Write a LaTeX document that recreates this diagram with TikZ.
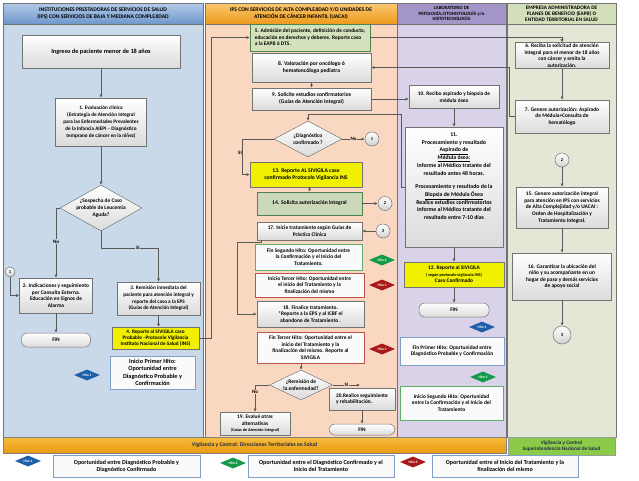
\documentclass[tikz,border=0pt]{standalone}
\usepackage{fontspec}
\setmainfont{Carlito}
\usetikzlibrary{shapes.geometric,shadows,arrows.meta}
\definecolor{laneA}{HTML}{C9D9EA}
\definecolor{headA}{HTML}{6F97CB}
\definecolor{headAt}{HTML}{B3CAE8}
\definecolor{laneB}{HTML}{F9D7C0}
\definecolor{headB}{HTML}{EE9A1C}
\definecolor{headBt}{HTML}{F9C870}
\definecolor{laneC}{HTML}{D9D2E8}
\definecolor{headC}{HTML}{A395C8}
\definecolor{laneD}{HTML}{E3E7D5}
\definecolor{headD}{HTML}{D3DEBB}
\definecolor{bandO}{HTML}{EA9A12}
\definecolor{bandOt}{HTML}{F6BD3E}
\definecolor{bandG}{HTML}{8CCB4A}
\definecolor{yel}{HTML}{F0F000}
\definecolor{grbox}{HTML}{D3E2BC}
\definecolor{grgray}{HTML}{CBD8BA}
\definecolor{hitoA}{HTML}{1F5FAA}
\definecolor{hitoB}{HTML}{129A48}
\definecolor{hitoC}{HTML}{A81818}
\definecolor{edgeA}{HTML}{7F9FC6}
\definecolor{edgeB}{HTML}{5FAE6A}
\definecolor{edgeC}{HTML}{C0504D}
\definecolor{ink}{HTML}{1F2A44}
\begin{document}
\begin{tikzpicture}[x=1pt,y=-1pt,
    every node/.style={font=\bfseries\fontsize{5.4}{6.6}\selectfont,align=center,inner sep=1pt},
    box/.style={draw=black!55,line width=.5pt,top color=white,bottom color=black!14,
      drop shadow={shadow xshift=.7pt,shadow yshift=-.7pt,opacity=.25}},
    yelbox/.style={draw=black!55,line width=.5pt,fill=yel,
      drop shadow={shadow xshift=.7pt,shadow yshift=-.7pt,opacity=.25}},
    grnbox/.style={draw=black!45!green!40!gray,line width=.5pt,fill=#1,
      drop shadow={shadow xshift=.7pt,shadow yshift=-.7pt,opacity=.25}},
    hitobox/.style={draw=#1,line width=.8pt,fill=white!96!gray,
      drop shadow={shadow xshift=.7pt,shadow yshift=-.7pt,opacity=.2}},
    finbox/.style={draw=black!55,line width=.5pt,rounded corners=6pt,top color=white,bottom color=black!14},
    dec/.style={diamond,draw=black!55,line width=.5pt,top color=white,bottom color=black!14,aspect=1.8,inner sep=0pt},
    conn/.style={circle,draw=black!55,line width=.5pt,top color=white,bottom color=black!18,
      minimum size=14pt,inner sep=0pt,font=\bfseries\fontsize{4.5}{5}\selectfont},
    hito/.style={diamond,fill=#1,aspect=2.4,minimum width=26pt,minimum height=11pt,inner sep=0pt,
      text=white,font=\bfseries\fontsize{3.6}{4}\selectfont},
    flow/.style={draw=black!65,line width=.6pt,-{Latex[length=3.2pt,width=3.2pt]}},
    lbl/.style={font=\bfseries\fontsize{5}{6}\selectfont,inner sep=.6pt}]
  \useasboundingbox (0,0) rectangle (639,480);
  \fill[white] (0,0) rectangle (639,480);
  % lanes
  \fill[laneA] (3,24) rectangle (203,437);
  \fill[laneB] (205,24) rectangle (397,437);
  \fill[laneC] (397,24) rectangle (506,437);
  \fill[laneD] (507,24) rectangle (616,437);
  \shade[top color=headAt,bottom color=headA] (3,3) rectangle (203,24);
  \shade[top color=headBt,bottom color=headB] (205,3) rectangle (397,24);
  \fill[headC] (397,3) rectangle (506,24);
  \fill[headD] (507,3) rectangle (616,24);
  \foreach \a/\b in {3/203,205/397,397/506,507/616}
    \draw[black!55,line width=.8pt] (\a,3) rectangle (\b,437) (\a,24) -- (\b,24);
  \node[font=\bfseries\fontsize{5.6}{6.6}\selectfont] (hdA) at (103,13.5)
    {INSTITUCIONES PRESTADORAS DE SERVICIOS DE SALUD\\(IPS) CON SERVICIOS DE BAJA Y MEDIANA COMPLEJIDAD};
  \node[font=\bfseries\fontsize{5.6}{6.6}\selectfont] (hdB) at (301,13.5)
    {IPS CON SERVICIOS DE ALTA COMPLEJIDAD Y/O UNIDADES DE\\ATENCIÓN DE CÁNCER INFANTIL (UACAI)};
  \node[font=\bfseries\fontsize{4.8}{5.6}\selectfont] (hdC) at (451.5,13.5)
    {LABORATORIO DE\\PATOLOGÍA,CITOHISTOLOGÍA y/o\\HISTOTECNOLOGÍA};
  \node[font=\bfseries\fontsize{5.3}{5.9}\selectfont] (hdD) at (561.5,13.5)
    {EMPRESA ADMINISTRADORA DE\\PLANES DE BENEFICIO (EAPB) O\\ENTIDAD TERRITORIAL EN SALUD};
  % bands
  \shade[top color=bandOt,bottom color=bandO,draw=black!50] (3,437) rectangle (506,453);
  \node[text=ink,font=\bfseries\fontsize{5.6}{6}\selectfont] (vigA) at (254.5,445)
    {Vigilancia y Control: Direcciones Territoriales en Salud};
  \fill[bandG,draw=black!40] (508,437) rectangle (615,455);
  \node[text=ink,font=\bfseries\fontsize{5.2}{6}\selectfont] (vigB) at (561.5,446)
    {Vigilancia y Control\\Superintendencia Nacional de Salud};

  % lane 1
  \node[box,minimum width=158pt,minimum height=33pt,font=\bfseries\fontsize{6.3}{7.5}\selectfont] (ingreso) at (101,51.5)
    {Ingreso de paciente menor de 18 años};
  \node[box,minimum width=91pt,minimum height=48pt,font=\bfseries\fontsize{5.2}{6.8}\selectfont] (n1) at (101,122)
    {1. Evaluación clínica\\(Estrategia de Atención Integral\\para las Enfermedades Prevalentes\\de la Infancia  AIEPI -- Diagnóstico\\temprano de cáncer en la niñez)};
  \node[dec,minimum width=82pt,minimum height=46pt] (d1) at (101,208)
    {¿Sospecha de Caso\\probable de Leucemia\\Aguda?};
  \node[box,minimum width=73pt,minimum height=35pt] (n2) at (56,295.5)
    {2. Indicaciones y seguimiento\\por Consulta Externa.\\Educación en Signos de\\Alarma};
  \node[box,minimum width=83pt,minimum height=33pt,font=\bfseries\fontsize{5.2}{6.6}\selectfont] (n3) at (158.5,298.5)
    {3. Remisión inmediata del\\paciente para atención integral y\\reporte del caso a la EPS\\(Guías de Atención Integral)};
  \node[conn,minimum size=10pt] (c1a) at (10,272) {1};
  \node[finbox,minimum width=69pt,minimum height=14pt] (finA) at (56,340) {FIN};
  \node[yelbox,minimum width=87pt,minimum height=22pt,font=\bfseries\fontsize{5.2}{6.2}\selectfont] (n4) at (155.5,338)
    {4. Reporte al SIVIGILA caso\\Probable --Protocolo Vigilancia\\Instituto Nacional de Salud (INS)};
  \node[hitobox=edgeA,minimum width=85pt,minimum height=33pt,font=\bfseries\fontsize{6.2}{7.4}\selectfont] (hAini) at (152.5,372.5)
    {Inicio Primer Hito:\\Oportunidad entre\\Diagnóstico Probable y\\Confirmación};
  \node[hito=hitoA] (hA1) at (87,375) {Hito 1};

  % lane 2
  \node[grnbox=grbox,minimum width=120pt,minimum height=27pt,align=left] (n5) at (310,37.5)
    {5.  Admisión del paciente, definición de conducta,\\educación en derechos y deberes.  Reporte caso\\a la EAPB ó DTS.};
  \node[box,minimum width=119pt,minimum height=29pt,font=\bfseries\fontsize{5.6}{7}\selectfont] (n8) at (311.5,67.5)
    {8. Valoración por oncólogo ó\\hematoncólogo pediatra};
  \node[box,minimum width=119pt,minimum height=22pt,font=\bfseries\fontsize{5.6}{7}\selectfont] (n9) at (311.5,99)
    {9. Solicite estudios confirmatorios\\(Guías de Atención Integral)};
  \node[dec,minimum width=68pt,minimum height=36pt] (d2) at (308,139) {¿Diagnóstico\\confirmado ?};
  \node[conn] (c1b) at (372,139) {1};
  \node[yelbox,minimum width=112pt,minimum height=25pt,font=\bfseries\fontsize{5.6}{7}\selectfont] (n13) at (306,174.5)
    {13. Reporte AL SIVIGILA  caso\\confirmado Protocolo Vigilancia INS};
  \node[grnbox=grgray,minimum width=105pt,minimum height=23pt,font=\bfseries\fontsize{5.6}{7}\selectfont] (n14) at (309.5,203.5)
    {14. Solicita autorización integral};
  \node[conn] (c2a) at (385,203.5) {2};
  \node[box,minimum width=105pt,minimum height=18pt] (n17) at (309.5,231)
    {17. Inicie tratamiento según  Guías de\\Práctica Clínica};
  \node[conn] (c3a) at (383,231) {3};
  \node[hitobox=edgeB,minimum width=107pt,minimum height=26pt] (hBfin) at (308.5,257)
    {Fin Segundo  Hito: Oportunidad entre\\la Confirmación y el Inicio del\\Tratamiento.};
  \node[hito=hitoB] (hB2) at (382,260) {Hito 2};
  \node[hitobox=edgeC,minimum width=109pt,minimum height=24pt] (hCini) at (309.5,285)
    {Inicio Tercer  Hito: Oportunidad entre\\el inicio del Tratamiento  y la\\finalización del mismo};
  \node[hito=hitoC] (hB3a) at (382,285) {Hito 3};
  \node[box,minimum width=107pt,minimum height=26pt] (n18) at (310.5,314)
    {18. Finalice tratamiento.\\*Reporte a la EPS y al ICBF el\\abandono de Tratamiento .};
  \node[hitobox=edgeC,minimum width=107pt,minimum height=31pt] (hCfin) at (310.5,347.5)
    {Fin Tercer  Hito: Oportunidad entre  el\\inicio del Tratamiento  y la\\finalización del mismo. Reporte al\\SIVIGILA};
  \node[hito=hitoC] (hB3b) at (382,349) {Hito 3};
  \node[dec,minimum width=63pt,minimum height=30pt] (d3) at (301,385) {¿Remisión de\\la enfermedad?};
  \node[box,minimum width=70pt,minimum height=23pt] (n19) at (255,423.5)
    {19. Evalué otras\\alternativas\\{\fontsize{4.2}{5}\selectfont(Guías de Atención Integral)}};
  \node[box,minimum width=66pt,minimum height=22pt,align=left] (n20) at (362,399)
    {20.Realice seguimiento\\y rehabilitación.};
  \coordinate (siend) at (360,385);
  \node[finbox,minimum width=66pt,minimum height=11pt] (finB) at (362,429.5) {FIN};

  % lane 3
  \node[box,minimum width=90pt,minimum height=23pt] (n10) at (454,97)
    {10. Recibo aspirado y biopsia de\\médula ósea};
  \node[box,minimum width=98pt,minimum height=120pt,font=\bfseries\fontsize{5.8}{7.7}\selectfont] (n11) at (454,187)
    {11.\\Procesamiento  y resultado\\\underline{Aspirado de}\\\underline{Médula ósea:}\\Informe al Médico tratante del\\resultado antes 48 horas.\\[6pt]
     Procesamiento  y resultado de la\\\underline{Biopsia de Médula Ósea}\\Realice estudios confirmatorios\\Informe al Médico tratante del\\resultado entre  7-10  días\\[14pt]};
  \node[yelbox,minimum width=100pt,minimum height=25pt] (n12) at (454,274.5)
    {12. Reporte al SIVIGILA\\{\fontsize{4.2}{5}\selectfont( según protocolo vigilancia INS)}\\Caso Confirmado};
  \node[finbox,minimum width=70pt,minimum height=14pt] (finC) at (454,310) {FIN};
  \node[hito=hitoA] (hC1) at (482,327) {Hito 1};
  \node[hitobox=edgeA,minimum width=104pt,minimum height=28pt] (hAfin) at (452,351)
    {Fin Primer Hito: Oportunidad entre\\Diagnóstico Probable y Confirmación};
  \node[hito=hitoB] (hC2) at (483,377) {Hito 2};
  \node[hitobox=edgeB,minimum width=103pt,minimum height=34pt] (hBini) at (451.5,403)
    {Inicio Segundo  Hito: Oportunidad\\entre la Confirmación  y el Inicio del\\Tratamiento};

  % lane 4
  \node[box,minimum width=94pt,minimum height=25pt] (n6) at (562,55.5)
    {6. Reciba la solicitud de atención\\integral para el menor de 18 años\\con cáncer y emita la\\autorización.};
  \node[box,minimum width=94pt,minimum height=33pt] (n7) at (562,116.5)
    {7. Genere  autorización: Aspirado\\de Médula+Consulta de\\hematólogo};
  \node[conn] (c2b) at (562,160) {2};
  \node[box,minimum width=92pt,minimum height=41pt] (n15) at (562,207.5)
    {15. Genere autorización integral\\para atención en IPS con servicios\\de Alta Complejidad y/o UACAI  :\\Orden de Hospitalización y\\Tratamiento Integral.};
  \node[box,minimum width=99pt,minimum height=47pt] (n16) at (562,276.5)
    {16. Garantizar la ubicación del\\niño y su acompañante en un\\hogar de paso y demás servicios\\de apoyo social};
  \node[conn,minimum size=18pt] (c3b) at (562,335) {3};

  % legend
  \node[hito=hitoA] (lgA) at (28,461) {Hito 1};
  \node[hitobox=edgeA,minimum width=147pt,minimum height=22pt,font=\bfseries\fontsize{6}{7.2}\selectfont] (lgAbox) at (126.5,466)
    {Oportunidad entre Diagnóstico Probable y\\Diagnóstico Confirmado};
  \node[hito=hitoB] (lgB) at (233,463) {Hito 2};
  \node[hitobox=edgeA,minimum width=146pt,minimum height=22pt,font=\bfseries\fontsize{6}{7.2}\selectfont] (lgBbox) at (321,466)
    {Oportunidad entre el Diagnóstico Confirmado y el\\Inicio del Tratamiento};
  \node[hito=hitoC] (lgC) at (413,462) {Hito 3};
  \node[hitobox=edgeA,minimum width=146pt,minimum height=22pt,font=\bfseries\fontsize{6}{7.2}\selectfont] (lgCbox) at (505,466)
    {Oportunidad entre el Inicio del Tratamiento y la\\finalización del mismo};

  % connectors
  \draw[flow] (ingreso) -- (n1);
  \draw[flow] (n1) -- (d1);
  \draw[flow] (d1.west) -| node[pos=.74,lbl,fill=laneA] {No} (n2.north);
  \draw[flow] (d1.south) -- ++(0,17) -| node[pos=.32,lbl,fill=laneA] {Sí} (n3.north);
  \draw[flow] (c1a.south) |- (n2.west);
  \draw[flow] (n2) -- (finA);
  \draw[flow] (n3.south) -- (n3.south |- n4.north);
  \draw[flow] (n4.east) -- ++(12,0) |- (n5.west);
  \draw[flow] (n5.east) -| (n6.north);
  \draw[flow] (n6) -- (n7);
  \draw[flow] (n7.west) -- ++(-5,0) |- (n8.east);
  \draw[flow] (n8) -- (n9);
  \draw[flow] (n9.east) -- (n9.east -| n10.west);
  \draw[flow] (n10) -- (n11);
  \draw[flow] (n11.west) -- ++(-3,0) |- ([yshift=6pt]d2.north) -- (d2.north);
  \draw[flow] (d2.east) -- node[lbl,fill=laneB] {No} (c1b);
  \draw[flow] (d2.west) -- ++(-31,0) |- node[pos=.2,left,lbl] {SI} (n13.west);
  \draw[flow] (n13.south -| n14.north) -- (n14.north);
  \draw[flow] (n14.east) -- (c2a);
  \draw[flow] (c2b) -- (n15);
  \draw[flow] (n15) -- (n16);
  \draw[flow] (n16) -- (c3b);
  \draw[flow] (c3a) -- (n17.east);
  \draw[flow] ([xshift=5pt]n17.south west) |- (237,242) |- (n18.west);
  \draw[flow] (n11) -- (n12);
  \draw[flow] (n12) -- (finC);
  \draw[flow] (d3.north |- hCfin.south) -- (d3.north);
  \draw[flow] (d3.west) -| node[pos=.63,lbl,fill=laneB] {No} (n19.north);
  \draw[flow] (d3.east) -- node[lbl,fill=laneB] {SI} (siend);
  \draw[flow] (n20) -- (finB);
\end{tikzpicture}
\end{document}
